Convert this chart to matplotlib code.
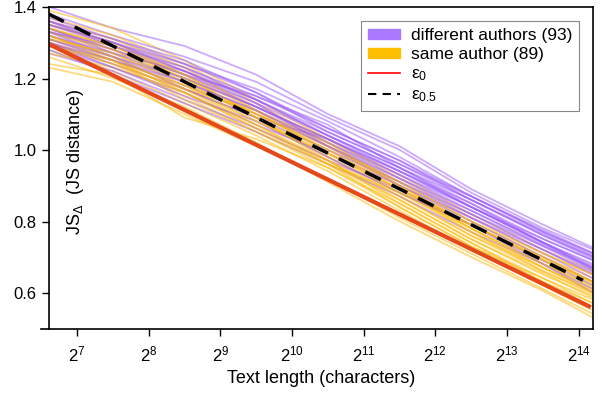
import numpy as np
import matplotlib
matplotlib.use('Agg')
import matplotlib.pyplot as plt
from matplotlib.patches import Patch
from matplotlib.lines import Line2D

plt.rcParams['font.family'] = ['Liberation Sans', 'DejaVu Sans']
plt.rcParams['mathtext.fontset'] = 'custom'
plt.rcParams['mathtext.rm'] = 'Liberation Sans'
plt.rcParams['mathtext.it'] = 'Liberation Sans'

# text length (log2 of characters) where the curves are sampled
log2_len = [6.6, 7.5, 8.5, 9.5, 10.5, 11.5, 12.5, 13.5, 14.2]

# JS distance curves, different authors
diff_authors = [
    [1.401, 1.341, 1.291, 1.211, 1.101, 1.011, 0.891, 0.792, 0.727],
    [1.381, 1.321, 1.261, 1.191, 1.091, 1.001, 0.881, 0.782, 0.722],
    [1.371, 1.311, 1.241, 1.171, 1.081, 0.981, 0.871, 0.772, 0.712],
    [1.351, 1.301, 1.231, 1.151, 1.061, 0.971, 0.861, 0.762, 0.702],
    [1.361, 1.291, 1.221, 1.141, 1.041, 0.951, 0.851, 0.752, 0.692],
    [1.331, 1.281, 1.211, 1.131, 1.041, 0.941, 0.841, 0.742, 0.682],
    [1.341, 1.271, 1.201, 1.121, 1.021, 0.931, 0.831, 0.732, 0.672],
    [1.321, 1.261, 1.191, 1.111, 1.021, 0.921, 0.821, 0.732, 0.662],
    [1.311, 1.251, 1.181, 1.101, 1.011, 0.911, 0.821, 0.722, 0.652],
    [1.301, 1.241, 1.171, 1.091, 1.001, 0.911, 0.811, 0.712, 0.642],
    [1.291, 1.231, 1.161, 1.071, 0.991, 0.901, 0.801, 0.702, 0.632],
    [1.271, 1.221, 1.141, 1.061, 0.971, 0.891, 0.791, 0.692, 0.622],
    [1.281, 1.211, 1.131, 1.051, 0.961, 0.871, 0.771, 0.682, 0.602],
    [1.351, 1.291, 1.211, 1.151, 1.071, 0.951, 0.841, 0.752, 0.692],
    [1.321, 1.271, 1.221, 1.131, 1.011, 0.901, 0.811, 0.722, 0.657],
    [1.331, 1.261, 1.171, 1.091, 1.031, 0.941, 0.851, 0.742, 0.672],
    [1.301, 1.231, 1.151, 1.081, 0.981, 0.881, 0.791, 0.682, 0.612],
    [1.361, 1.311, 1.251, 1.161, 1.051, 0.961, 0.871, 0.777, 0.712],
    [1.341, 1.281, 1.211, 1.121, 1.031, 0.931, 0.841, 0.742, 0.677],
    [1.361, 1.301, 1.221, 1.141, 1.051, 0.961, 0.861, 0.762, 0.697],
    [1.311, 1.261, 1.201, 1.121, 1.031, 0.941, 0.841, 0.742, 0.667],
    [1.331, 1.291, 1.231, 1.141, 1.041, 0.951, 0.861, 0.767, 0.702],
    [1.301, 1.251, 1.191, 1.111, 1.011, 0.921, 0.831, 0.737, 0.667],
    [1.351, 1.301, 1.241, 1.161, 1.061, 0.971, 0.871, 0.772, 0.707],
]

# JS distance curves, same author
same_author = [
    [1.391, 1.341, 1.251, 1.141, 1.031, 0.921, 0.811, 0.712, 0.652],
    [1.371, 1.321, 1.241, 1.131, 1.021, 0.911, 0.801, 0.702, 0.642],
    [1.351, 1.301, 1.221, 1.121, 1.031, 0.931, 0.821, 0.722, 0.662],
    [1.341, 1.281, 1.201, 1.101, 1.001, 0.901, 0.791, 0.692, 0.632],
    [1.331, 1.271, 1.191, 1.091, 0.981, 0.881, 0.781, 0.682, 0.622],
    [1.321, 1.261, 1.171, 1.081, 0.981, 0.871, 0.761, 0.672, 0.602],
    [1.311, 1.251, 1.161, 1.061, 0.971, 0.861, 0.751, 0.652, 0.592],
    [1.301, 1.241, 1.151, 1.051, 0.951, 0.851, 0.741, 0.642, 0.572],
    [1.281, 1.221, 1.131, 1.041, 0.941, 0.831, 0.721, 0.622, 0.552],
    [1.261, 1.201, 1.121, 1.021, 0.911, 0.801, 0.701, 0.607, 0.532],
    [1.231, 1.191, 1.101, 1.011, 0.921, 0.811, 0.711, 0.612, 0.542],
    [1.241, 1.211, 1.091, 1.031, 0.951, 0.841, 0.731, 0.632, 0.562],
    [1.361, 1.311, 1.231, 1.111, 0.991, 0.891, 0.771, 0.662, 0.602],
    [1.291, 1.241, 1.171, 1.111, 1.021, 0.901, 0.781, 0.672, 0.612],
    [1.321, 1.251, 1.141, 1.051, 0.961, 0.881, 0.791, 0.702, 0.632],
    [1.271, 1.231, 1.161, 1.071, 0.961, 0.841, 0.731, 0.642, 0.582],
    [1.341, 1.291, 1.211, 1.091, 0.971, 0.851, 0.741, 0.632, 0.572],
    [1.301, 1.251, 1.181, 1.101, 1.011, 0.911, 0.801, 0.712, 0.652],
    [1.351, 1.301, 1.211, 1.111, 1.011, 0.901, 0.791, 0.697, 0.632],
    [1.331, 1.281, 1.191, 1.091, 0.991, 0.891, 0.781, 0.682, 0.617],
    [1.311, 1.271, 1.181, 1.081, 0.991, 0.881, 0.771, 0.672, 0.607],
    [1.341, 1.291, 1.201, 1.101, 1.001, 0.891, 0.791, 0.692, 0.627],
    [1.321, 1.261, 1.171, 1.071, 0.971, 0.871, 0.761, 0.662, 0.597],
    [1.291, 1.251, 1.161, 1.061, 0.961, 0.861, 0.751, 0.657, 0.587],
]

# thresholds (straight in log x)
eps_log2 = [6.6, 14.17]
eps0 = [1.297, 0.561]
eps05_log2 = [6.6, 14.06]
eps05 = [1.381, 0.636]

xticks_log2 = [7, 8, 9, 10, 11, 12, 13, 14]

purple = '#9a58fa'
orange = '#fdb700'

fig = plt.figure(figsize=(6.02, 3.96), dpi=100)
ax = fig.add_axes([0.0814, 0.1692, 0.9036, 0.8131])

x = 2.0 ** np.array(log2_len)
for i in range(max(len(diff_authors), len(same_author))):
    if i < len(diff_authors):
        ax.plot(x, diff_authors[i], color=purple, alpha=0.5, lw=1.3)
    if i < len(same_author):
        ax.plot(x, same_author[i], color=orange, alpha=0.5, lw=1.3)

ax.plot(2.0 ** np.array(eps_log2), eps0, color='#e5481a', lw=3, solid_capstyle='butt')
ax.plot(2.0 ** np.array(eps05_log2), eps05, color='black', lw=2.5, dashes=(5, 3.5))

ax.set_xscale('log', base=2)
ax.set_xlim(2 ** 6.61, 2 ** 14.2)
ax.set_ylim(0.5, 1.4)
ax.set_xticks([2 ** k for k in xticks_log2])
ax.set_xticklabels([r'$2^{%d}$' % k for k in xticks_log2])
ax.xaxis.set_minor_locator(matplotlib.ticker.NullLocator())
ax.set_yticks([0.6, 0.8, 1.0, 1.2, 1.4])
ax.set_yticklabels(['0.6', '0.8', '1.0', '1.2', '1.4'])
ax.tick_params(labelsize=12, length=5, width=1, pad=4)
ax.tick_params(axis='x', pad=6)
ax.spines['bottom'].set_bounds(2 ** 6.5, 2 ** 14.2)
for s in ax.spines.values():
    s.set_linewidth(1.2)

ax.set_xlabel('Text length (characters)', fontsize=13, labelpad=4)
ax.text(0.048, 0.52, r'JS$_{\Delta}$  (JS distance)', transform=ax.transAxes,
        rotation=90, ha='center', va='center', fontsize=13)

handles = [
    Patch(color='#a979ff', label='different authors (93)'),
    Patch(color='#ffbe00', label='same author (89)'),
    Line2D([], [], color='red', lw=1.2, label=r'$\varepsilon_0$'),
    Line2D([], [], color='black', lw=1.5, dashes=(4, 3), label=r'$\varepsilon_{0.5}$'),
]
leg = ax.legend(handles=handles, loc='upper right', fontsize=12.5, fancybox=False,
                framealpha=1, edgecolor='#888888', borderaxespad=0.8,
                handlelength=1.85, handleheight=0.5, labelspacing=0.25,
                borderpad=0.4, handletextpad=0.6)
leg.get_frame().set_linewidth(0.8)

fig.savefig('out.png', dpi=100)
